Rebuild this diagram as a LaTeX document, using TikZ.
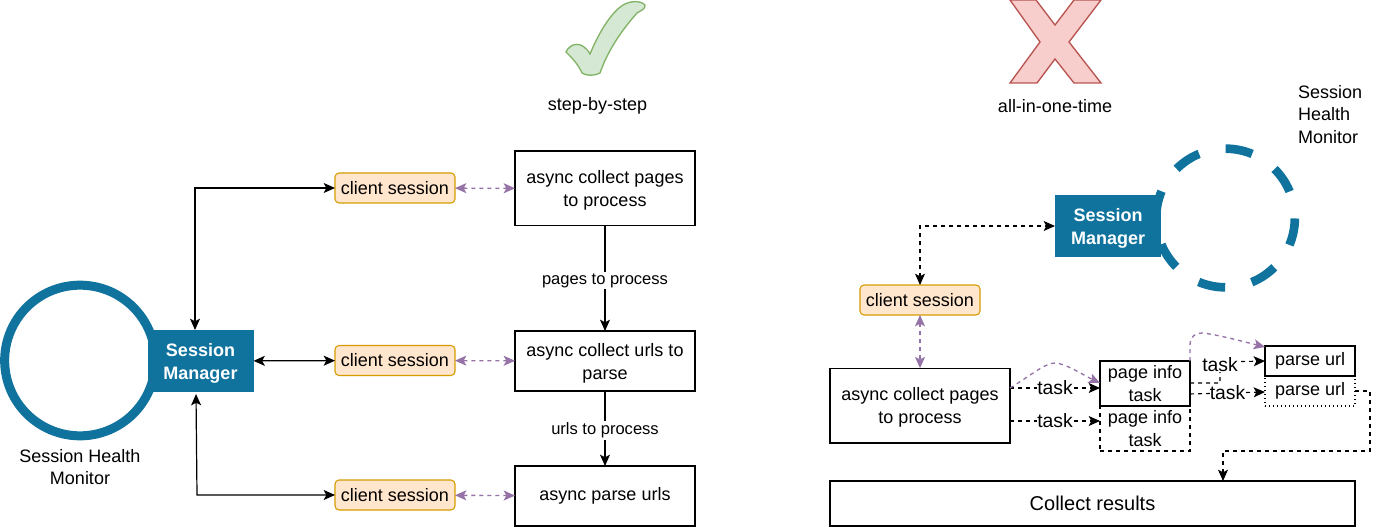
\documentclass[tikz,border=0pt]{standalone}
\usepackage{fontspec}
\setmainfont{Liberation Sans}
\usetikzlibrary{arrows.meta}
\definecolor{mgrblue}{HTML}{10739E}
\definecolor{clientfill}{HTML}{FFE6CC}
\definecolor{clientline}{HTML}{D79B00}
\definecolor{msgpurple}{HTML}{9673A6}
\definecolor{checkfill}{HTML}{D5E8D4}
\definecolor{checkline}{HTML}{82B366}
\definecolor{crossfill}{HTML}{F8CECC}
\definecolor{crossline}{HTML}{B85450}
\newcommand{\lifted}{\rule{0pt}{13pt}}

\begin{document}
\begin{tikzpicture}[
    x=0.75pt,
    y=-0.75pt,
    >={Stealth[length=8.5pt,width=7.5pt,inset=2pt]},
    every node/.style={font=\fontsize{13.5}{17}\selectfont, inner sep=0pt, outer sep=0pt},
    procbox/.style={
        rectangle,
        draw,
        line width=1pt,
        minimum width=135pt,
        align=center
    },
    smallbox/.style={
        rectangle,
        line width=1pt,
        minimum width=67.5pt,
        align=center
    },
    clientbox/.style={
        rectangle,
        draw=clientline,
        fill=clientfill,
        rounded corners=3pt,
        line width=0.8pt,
        minimum width=90pt,
        minimum height=22.5pt
    },
    mgrbox/.style={
        rectangle,
        fill=mgrblue,
        text=white,
        minimum width=79.5pt,
        minimum height=46pt,
        align=center,
        font=\fontsize{13.5}{17}\selectfont\bfseries
    },
    msgline/.style={<->, dashed, draw=msgpurple, line width=1pt},
    msgcurve/.style={->, dashed, draw=msgpurple, line width=1pt},
    taskline/.style={->, dashed, line width=0.8pt},
    mgrline/.style={<->, line width=0.9pt},
    tasklabel/.style={fill=white, font=\fontsize{14.5}{16}\selectfont},
    flowlabel/.style={fill=white, inner sep=1pt, yshift=-1.5pt, font=\fontsize{12.4}{14}\selectfont}
]
\useasboundingbox (0,0) rectangle (1383,527);

% Tick and cross
\draw[draw=checkline, fill=checkfill, line width=1pt]
    (566,52) .. controls (570,43) and (582,40) .. (590,54)
    .. controls (600,30) and (612,12) .. (623,5) .. controls (630,1) and (640,0) .. (645,5)
    .. controls (646,9) and (640,11) .. (637,13) .. controls (622,30) and (608,50) .. (600,73)
    .. controls (595,76) and (586,76) .. (582,73) .. controls (578,64) and (572,58) .. (566,52) -- cycle;
\draw[draw=crossline, fill=crossfill, line width=1pt]
    (1010,0) -- (1036,0) -- (1055,25) -- (1074,0) -- (1101,0) -- (1069,42) -- (1101,83)
    -- (1074,83) -- (1055,59) -- (1037,83) -- (1010,83) -- (1040,42) -- cycle;
\node (stepcap) at (597.5,106) {step-by-step};
\node (allcap) at (1055,106) {all-in-one-time};

% Left side: monitor and manager
\node[circle, draw=mgrblue, line width=6.75pt, minimum size=113pt] (monleft) at (80,360.5) {};
\node[mgrbox] (mgrleft) at (200.5,361) {\lifted Session\\Manager};
\node[align=center] (monlefttext) at (80,467) {Session Health\\Monitor};

\node[clientbox] (clienta) at (395,188) {client session};
\node[clientbox] (clientb) at (395,360.5) {client session};
\node[clientbox] (clientc) at (395,495) {client session};

\node[procbox, minimum height=56pt] (collecta) at (605,188.5) {\lifted async collect pages\\to process};
\node[procbox, minimum height=45pt] (collectb) at (605,361) {\lifted async collect urls to\\parse};
\node[procbox, minimum height=45pt] (parsea) at (605,496) {async parse urls};

\coordinate (mgrtop) at (195,330);
\coordinate (mgrlow) at (196,394);
\coordinate (mgrbend) at (197,495);
\draw[mgrline] (mgrtop) |- (clienta);
\draw[mgrline] (mgrleft) -- (clientb);
\draw[mgrline] (mgrlow) -- (mgrbend) -- (clientc);

\draw[msgline] (clienta) -- (collecta);
\draw[msgline] (clientb) -- (collectb);
\draw[msgline] (clientc) -- (parsea);

\draw[->, line width=0.9pt] (collecta) -- node[flowlabel] {pages to process} (collectb);
\draw[->, line width=0.9pt] (collectb) -- node[flowlabel] {urls to process} (parsea);

% Right side: monitor and manager
\node[circle, draw=mgrblue, line width=6.5pt, minimum size=104pt, dash pattern=on 20.4pt off 20.4pt, dash phase=20.4pt] (monright) at (1225.5,218) {};
\node[mgrbox] (mgrright) at (1108,226) {\lifted Session\\Manager};
\node[align=left, anchor=north west] (monrighttext) at (1298,85) {Session\\Health\\Monitor};

\node[clientbox] (clientd) at (920,300) {client session};
\node[procbox, minimum height=56pt] (collectr) at (920,405.5) {\lifted async collect pages\\to process};
\draw[<->, dashed, line width=0.8pt] (clientd) |- (mgrright);
\draw[msgline] (clientd) -- (collectr);

\node[smallbox, draw, minimum height=33.75pt] (pagea) at (1145,383.5) {page info\\task};
\node[smallbox, draw, dashed, minimum height=33.75pt] (pageb) at (1145,428.5) {page info\\task};
\node[smallbox, draw, minimum height=22.5pt] (urla) at (1310,361) {parse url};
\node[smallbox, draw, dotted, minimum height=22.5pt] (urlb) at (1310,391) {parse url};
\node[procbox, minimum width=393.75pt, minimum height=33.75pt, font=\fontsize{15}{18}\selectfont] (results) at (1092.5,503.5) {Collect results};

% Tasks between the boxes
\coordinate (collectouta) at (1010,388);
\coordinate (collectoutb) at (1010,421);
\coordinate (pageina) at (1100,388);
\coordinate (pageinb) at (1100,421);
\draw[taskline] (collectouta) -- node[tasklabel] {task} (pageina);
\draw[taskline] (collectoutb) -- node[tasklabel] {task} (pageinb);

\coordinate (pageouta) at (1190,383);
\coordinate (pageoutb) at (1190,394);
\coordinate (urlina) at (1265,361);
\coordinate (urlinb) at (1265,392);
\coordinate (turn) at (1220,362);
\draw[taskline] (pageouta) -| (turn) -- node[tasklabel, pos=0, yshift=-2pt] {task} (urlina);
\draw[taskline] (pageoutb) -- node[tasklabel, pos=0.5] {task} (urlinb);

\coordinate (resultsin) at (1223,481);
\coordinate (loopa) at (1370,451);
\draw[taskline] (urlb.east) -| (loopa) -| (resultsin);

% Purple hops over the boxes
\coordinate (hopinb) at (1100,383);
\coordinate (hopoutb) at (1190,361);
\coordinate (hopinc) at (1265,347);
\draw[msgcurve] (collectouta) .. controls (1030,376) and (1045,363) .. (1055,363) .. controls (1065,363) and (1085,376) .. (hopinb);
\draw[msgcurve] (hopoutb) -- (1190,345) .. controls (1190,336) and (1196,333) .. (1202,333) .. controls (1215,334) and (1245,342) .. (hopinc);

\end{tikzpicture}
\end{document}
